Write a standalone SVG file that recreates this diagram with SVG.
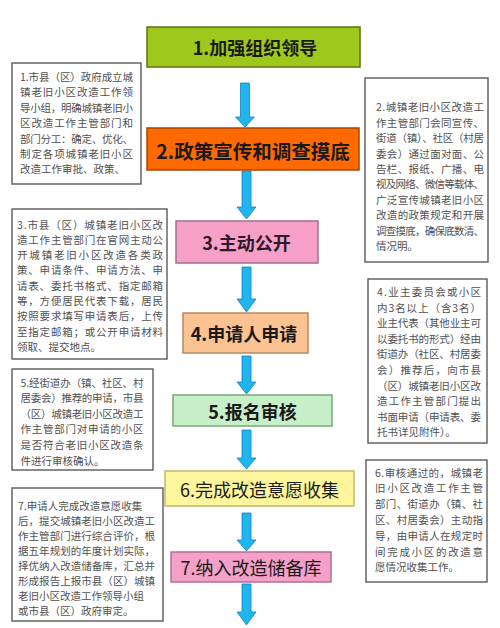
<svg xmlns="http://www.w3.org/2000/svg" width="500" height="628" viewBox="0 0 500 628">
<style>
.main{font-family:"Noto Sans CJK SC","Noto Sans",sans-serif;font-size:18px;font-weight:bold;fill:#1a1a1a;text-anchor:middle;dominant-baseline:central}
.side{fill:#ffffff;stroke:#5a5a5a;stroke-width:1.4}
.st{font-family:"Noto Sans CJK SC","Noto Sans",sans-serif;font-size:10.5px;fill:#505050;dominant-baseline:central}
.arrow{fill:#1fb5ef;stroke:#1b7fc0;stroke-width:0.8}
</style>
<rect width="500" height="628" fill="#ffffff"/>

<g id="connectors">
<polygon class="arrow" points="240.5,83 249.5,83 249.5,117 254.5,117 245,127 235.5,117 240.5,117"/>
<polygon class="arrow" points="242,171 251,171 251,207 256,207 246.5,219 237,207 242,207"/>
<polygon class="arrow" points="242,267 251,267 251,299 256,299 246.5,312 237,299 242,299"/>
<polygon class="arrow" points="242,356 251,356 251,382 256,382 246.5,394 237,382 242,382"/>
<polygon class="arrow" points="242,430 251,430 251,458 256,458 246.5,469 237,458 242,458"/>
<polygon class="arrow" points="242,513 251,513 251,540 256,540 246.5,551 237,540 242,540"/>
<polygon class="arrow" points="242,584 251,584 251,612 256,612 246.5,625 237,612 242,612"/>
</g>

<g id="step1">
<rect x="147" y="27" width="213" height="40" fill="#9fc81c" stroke="#5b7316" stroke-width="1.5"/>
<text class="main" x="255" y="47">1.加强组织领导</text>
</g>
<g id="step2">
<rect x="147" y="128" width="212" height="42" fill="#ff6a00" stroke="#a84600" stroke-width="1.5"/>
<text class="main" x="253" y="150" style="font-size:19.5px">2.政策宣传和调查摸底</text>
</g>
<g id="step3">
<rect x="176" y="221" width="142" height="42" fill="#f6a0c8" stroke="#a07090" stroke-width="1.5"/>
<text class="main" x="246.5" y="242" style="fill:#2a1a2a">3.主动公开</text>
</g>
<g id="step4">
<rect x="183" y="313" width="125" height="40" fill="#fbc292" stroke="#b48a60" stroke-width="1.5"/>
<text class="main" x="244" y="333">4.申请人申请</text>
</g>
<g id="step5">
<rect x="173" y="395" width="159" height="31" fill="#c8f0c8" stroke="#78a878" stroke-width="1.5"/>
<text class="main" x="252.5" y="410.5">5.报名审核</text>
</g>
<g id="step6">
<rect x="165" y="471" width="189" height="35" fill="#fef69c" stroke="#c2b870" stroke-width="1.5"/>
<text class="main" x="259.5" y="488.5" style="font-weight:normal">6.完成改造意愿收集</text>
</g>
<g id="step7">
<rect x="171" y="552" width="160" height="30" fill="#f5a0c8" stroke="#b07090" stroke-width="1.5"/>
<text class="main" x="251" y="567" style="font-weight:normal">7.纳入改造储备库</text>
</g>

<g id="note1">
<rect class="side" x="12" y="63" width="129" height="121"/>
<text class="st" x="20" y="76.5" textLength="113" lengthAdjust="spacing">1.市县（区）政府成立城</text>
<text class="st" x="20" y="91.9" textLength="113" lengthAdjust="spacing">镇老旧小区改造工作领</text>
<text class="st" x="20" y="107.3" textLength="113" lengthAdjust="spacing">导小组，明确城镇老旧小</text>
<text class="st" x="20" y="122.7" textLength="113" lengthAdjust="spacing">区改造工作主管部门和</text>
<text class="st" x="20" y="138.1" textLength="113" lengthAdjust="spacing">部门分工：确定、优化、</text>
<text class="st" x="20" y="153.5" textLength="113" lengthAdjust="spacing">制定各项城镇老旧小区</text>
<text class="st" x="20" y="168.9">改造工作审批、政策、</text>
</g>

<g id="note3">
<rect class="side" x="12" y="209" width="155" height="150"/>
<text class="st" x="17" y="224" textLength="146" lengthAdjust="spacing">3.市县（区）城镇老旧小区改</text>
<text class="st" x="17" y="239.3" textLength="146" lengthAdjust="spacing">造工作主管部门在官网主动公</text>
<text class="st" x="17" y="254.6" textLength="146" lengthAdjust="spacing">开城镇老旧小区改造各类政</text>
<text class="st" x="17" y="269.9" textLength="146" lengthAdjust="spacing">策、申请条件、申请方法、申</text>
<text class="st" x="17" y="285.2" textLength="146" lengthAdjust="spacing">请表、委托书格式、指定邮箱</text>
<text class="st" x="17" y="300.5" textLength="146" lengthAdjust="spacing">等，方便居民代表下载，居民</text>
<text class="st" x="17" y="315.8" textLength="146" lengthAdjust="spacing">按照要求填写申请表后，上传</text>
<text class="st" x="17" y="331.1" textLength="146" lengthAdjust="spacing">至指定邮箱；或公开申请材料</text>
<text class="st" x="17" y="346.4">领取、提交地点。</text>
</g>

<g id="note5">
<rect class="side" x="12" y="369" width="141" height="101"/>
<text class="st" x="20.5" y="382" textLength="123" lengthAdjust="spacing">5.经街道办（镇、社区、村</text>
<text class="st" x="20.5" y="397.6" textLength="123" lengthAdjust="spacing">居委会）推荐的申请，市县</text>
<text class="st" x="20.5" y="413.2" textLength="123" lengthAdjust="spacing">（区）城镇老旧小区改造工</text>
<text class="st" x="20.5" y="428.8" textLength="123" lengthAdjust="spacing">作主管部门对申请的小区</text>
<text class="st" x="20.5" y="444.4" textLength="123" lengthAdjust="spacing">是否符合老旧小区改造条</text>
<text class="st" x="20.5" y="460">件进行审核确认。</text>
</g>

<g id="note7">
<rect class="side" x="12" y="488" width="151" height="133"/>
<text class="st" x="18" y="505">7.申请人完成改造意愿收集</text>
<text class="st" x="18" y="520" textLength="137" lengthAdjust="spacing">后，提交城镇老旧小区改造工</text>
<text class="st" x="18" y="535" textLength="137" lengthAdjust="spacing">作主管部门进行综合评价，根</text>
<text class="st" x="18" y="550" textLength="137" lengthAdjust="spacing">据五年规划的年度计划实际，</text>
<text class="st" x="18" y="565" textLength="137" lengthAdjust="spacing">择优纳入改造储备库，汇总并</text>
<text class="st" x="18" y="580" textLength="137" lengthAdjust="spacing">形成报告上报市县（区）城镇</text>
<text class="st" x="18" y="595">老旧小区改造工作领导小组</text>
<text class="st" x="18" y="610">或市县（区）政府审定。</text>
</g>

<g id="note2">
<rect class="side" x="365" y="78" width="123" height="184"/>
<text class="st" x="376" y="106.7" textLength="108" lengthAdjust="spacing">2.城镇老旧小区改造工</text>
<text class="st" x="376" y="122.15" textLength="108" lengthAdjust="spacing">作主管部门会同宣传、</text>
<text class="st" x="376" y="137.6" textLength="108" lengthAdjust="spacing">街道（镇）、社区（村居</text>
<text class="st" x="376" y="153.05" textLength="108" lengthAdjust="spacing">委会）通过面对面、公</text>
<text class="st" x="376" y="168.5" textLength="108" lengthAdjust="spacing">告栏、报纸、广播、电</text>
<text class="st" x="376" y="183.95" textLength="108" lengthAdjust="spacing">视及网络、微信等载体、</text>
<text class="st" x="376" y="199.4" textLength="108" lengthAdjust="spacing">广泛宣传城镇老旧小区</text>
<text class="st" x="376" y="214.85" textLength="108" lengthAdjust="spacing">改造的政策规定和开展</text>
<text class="st" x="376" y="230.3" textLength="108" lengthAdjust="spacing">调查摸底，确保底数清、</text>
<text class="st" x="376" y="245.75">情况明。</text>
</g>

<g id="note4">
<rect class="side" x="368" y="279" width="119" height="164"/>
<text class="st" x="377" y="291.7" textLength="104" lengthAdjust="spacing">4.业主委员会或小区</text>
<text class="st" x="377" y="307.25" textLength="104" lengthAdjust="spacing">内3名以上（含3名）</text>
<text class="st" x="377" y="322.8" textLength="104" lengthAdjust="spacing">业主代表（其他业主可</text>
<text class="st" x="377" y="338.35" textLength="104" lengthAdjust="spacing">以委托书的形式）经由</text>
<text class="st" x="377" y="353.9" textLength="104" lengthAdjust="spacing">街道办（社区、村居委</text>
<text class="st" x="377" y="369.45" textLength="104" lengthAdjust="spacing">会）推荐后，向市县</text>
<text class="st" x="377" y="385" textLength="104" lengthAdjust="spacing">（区）城镇老旧小区改</text>
<text class="st" x="377" y="400.55" textLength="104" lengthAdjust="spacing">造工作主管部门提出</text>
<text class="st" x="377" y="416.1" textLength="104" lengthAdjust="spacing">书面申请（申请表、委</text>
<text class="st" x="377" y="431.65">托书详见附件）。</text>
</g>

<g id="note6">
<rect class="side" x="366" y="460" width="121" height="122"/>
<text class="st" x="375" y="472" textLength="108" lengthAdjust="spacing">6.审核通过的，城镇老</text>
<text class="st" x="375" y="487.8" textLength="108" lengthAdjust="spacing">旧小区改造工作主管</text>
<text class="st" x="375" y="503.6" textLength="108" lengthAdjust="spacing">部门、街道办（镇、社</text>
<text class="st" x="375" y="519.4" textLength="108" lengthAdjust="spacing">区、村居委会）主动指</text>
<text class="st" x="375" y="535.2" textLength="108" lengthAdjust="spacing">导，由申请人在规定时</text>
<text class="st" x="375" y="551" textLength="108" lengthAdjust="spacing">间完成小区的改造意</text>
<text class="st" x="375" y="566.8">愿情况收集工作。</text>
</g>
</svg>
